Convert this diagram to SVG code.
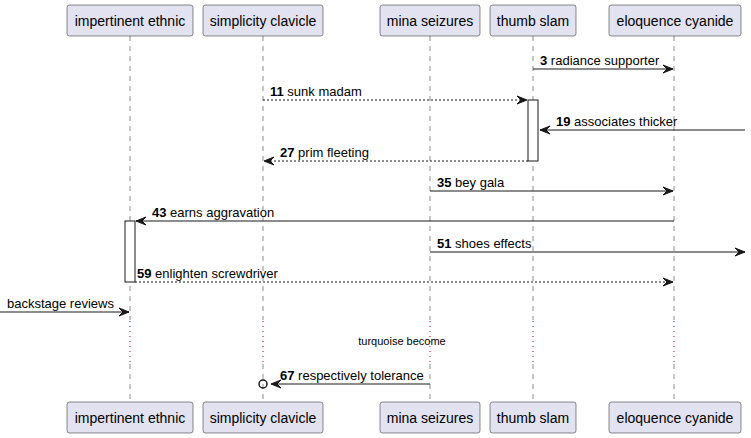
<svg xmlns="http://www.w3.org/2000/svg" width="751" height="438" viewBox="0 0 751 438">
<style>
.box{fill:#E2E2F0;stroke:#181818;stroke-width:0.5}
.pname{font-family:"Liberation Sans",Arial,sans-serif;font-size:14px;fill:#000;text-anchor:middle}
.life{stroke:#181818;stroke-width:0.5;stroke-dasharray:5,5;fill:none}
.delay{stroke:#A80036;stroke-width:1;stroke-dasharray:1,4;fill:none}
.msg{stroke:#181818;stroke-width:1;fill:none}
.dash{stroke-dasharray:2,2}
.act{fill:#FFFFFF;stroke:#181818;stroke-width:1}
.lbl{font-family:"Liberation Sans",Arial,sans-serif;font-size:13px;fill:#000}
.num{font-weight:bold}
.head{fill:#181818;stroke:#181818;stroke-width:1}
.note{font-family:"Liberation Sans",Arial,sans-serif;font-size:11px;fill:#000;text-anchor:middle}
</style>
<defs>
<marker id="ar" viewBox="0 0 12 10" refX="11" refY="5" markerWidth="12" markerHeight="10" markerUnits="userSpaceOnUse" orient="auto">
<polygon points="11,5 1,1 5,5 1,9" fill="#181818" stroke="#181818" stroke-width="1"/>
</marker>
</defs>
<g id="lifelines">
<line class="life" x1="130" y1="36" x2="130" y2="320"/><line class="delay" x1="130" y1="321" x2="130" y2="362"/><line class="life" x1="130" y1="364" x2="130" y2="402"/>
<line class="life" x1="263" y1="36" x2="263" y2="320"/><line class="delay" x1="263" y1="321" x2="263" y2="362"/><line class="life" x1="263" y1="364" x2="263" y2="402"/>
<line class="life" x1="430" y1="36" x2="430" y2="320"/><line class="delay" x1="430" y1="321" x2="430" y2="362"/><line class="life" x1="430" y1="364" x2="430" y2="402"/>
<line class="life" x1="533" y1="36" x2="533" y2="320"/><line class="delay" x1="533" y1="321" x2="533" y2="362"/><line class="life" x1="533" y1="364" x2="533" y2="402"/>
<line class="life" x1="674" y1="36" x2="674" y2="320"/><line class="delay" x1="674" y1="321" x2="674" y2="362"/><line class="life" x1="674" y1="364" x2="674" y2="402"/>
</g>
<g id="p-impertinent-ethnic">
<rect class="box" x="67" y="5" width="126" height="31" rx="2.5"/><text class="pname" x="130" y="25.5">impertinent ethnic</text>
<rect class="box" x="67" y="402" width="126" height="31" rx="2.5"/><text class="pname" x="130" y="422.5">impertinent ethnic</text>
</g>
<g id="p-simplicity-clavicle">
<rect class="box" x="203" y="5" width="120" height="31" rx="2.5"/><text class="pname" x="263" y="25.5">simplicity clavicle</text>
<rect class="box" x="203" y="402" width="120" height="31" rx="2.5"/><text class="pname" x="263" y="422.5">simplicity clavicle</text>
</g>
<g id="p-mina-seizures">
<rect class="box" x="380" y="5" width="100" height="31" rx="2.5"/><text class="pname" x="430" y="25.5">mina seizures</text>
<rect class="box" x="380" y="402" width="100" height="31" rx="2.5"/><text class="pname" x="430" y="422.5">mina seizures</text>
</g>
<g id="p-thumb-slam">
<rect class="box" x="490" y="5" width="86" height="31" rx="2.5"/><text class="pname" x="533" y="25.5">thumb slam</text>
<rect class="box" x="490" y="402" width="86" height="31" rx="2.5"/><text class="pname" x="533" y="422.5">thumb slam</text>
</g>
<g id="p-eloquence-cyanide">
<rect class="box" x="609" y="5" width="132" height="31" rx="2.5"/><text class="pname" x="675" y="25.5">eloquence cyanide</text>
<rect class="box" x="609" y="402" width="132" height="31" rx="2.5"/><text class="pname" x="675" y="422.5">eloquence cyanide</text>
</g>
<g id="activations">
<rect class="act" x="528" y="100" width="10" height="61"/>
<rect class="act" x="125" y="221" width="10" height="61"/>
</g>
<g id="connectors">
<line class="msg" x1="533" y1="69" x2="673" y2="69" marker-end="url(#ar)"/>
<text class="lbl" x="540" y="64.5"><tspan class="num">3</tspan> radiance supporter</text>

<line class="msg dash" x1="263" y1="100" x2="527" y2="100" marker-end="url(#ar)"/>
<text class="lbl" x="270" y="95.5"><tspan class="num">11</tspan> sunk madam</text>

<line class="msg" x1="745" y1="130" x2="540" y2="130" marker-end="url(#ar)"/>
<text class="lbl" x="556" y="125.5"><tspan class="num">19</tspan> associates thicker</text>

<line class="msg dash" x1="528" y1="161" x2="264" y2="161" marker-end="url(#ar)"/>
<text class="lbl" x="280" y="156.5"><tspan class="num">27</tspan> prim fleeting</text>

<line class="msg" x1="430" y1="191" x2="673" y2="191" marker-end="url(#ar)"/>
<text class="lbl" x="437" y="186.5"><tspan class="num">35</tspan> bey gala</text>

<line class="msg" x1="674" y1="221" x2="136" y2="221" marker-end="url(#ar)"/>
<text class="lbl" x="152" y="216.5"><tspan class="num">43</tspan> earns aggravation</text>

<line class="msg" x1="430" y1="252" x2="745" y2="252" marker-end="url(#ar)"/>
<text class="lbl" x="437" y="247.5"><tspan class="num">51</tspan> shoes effects</text>

<line class="msg dash" x1="135" y1="282" x2="673" y2="282" marker-end="url(#ar)"/>
<text class="lbl" x="137" y="277.5"><tspan class="num">59</tspan> enlighten screwdriver</text>

<line class="msg" x1="0" y1="312" x2="129" y2="312" marker-end="url(#ar)"/>
<text class="lbl" x="7" y="307.5">backstage reviews</text>

<text class="note" x="402" y="345">turquoise become</text>

<line class="msg" x1="430" y1="384" x2="271" y2="384" marker-end="url(#ar)"/>
<circle cx="263" cy="384" r="4" fill="none" stroke="#181818" stroke-width="1.5"/>
<text class="lbl" x="280" y="379.5"><tspan class="num">67</tspan> respectively tolerance</text>
</g>
</svg>
